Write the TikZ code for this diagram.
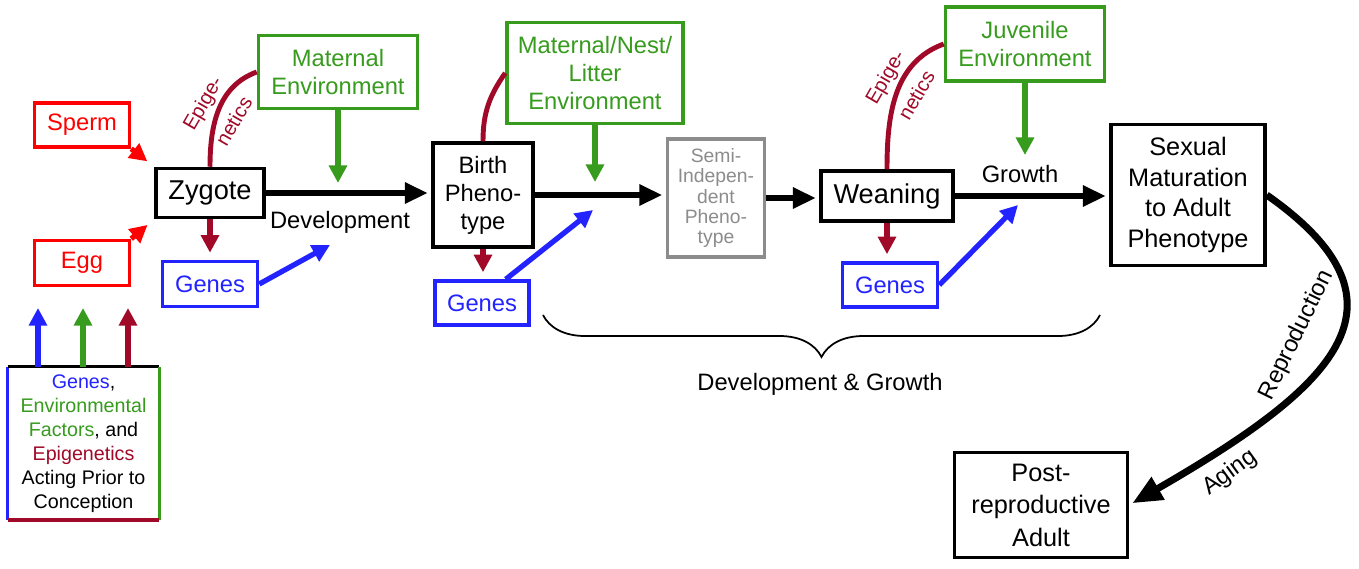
\documentclass[tikz,border=0pt]{standalone}
\usepackage{fontspec}
\setmainfont{Liberation Sans}
\usepackage{xcolor}
\usepackage{tikz}
\usetikzlibrary{shapes,arrows,arrows.meta,positioning,calc,decorations.pathreplacing}
\definecolor{gametered}{RGB}{255,0,0}
\definecolor{geneblue}{RGB}{35,35,255}
\definecolor{envgreen}{RGB}{55,155,30}
\definecolor{epired}{RGB}{160,10,40}
\definecolor{semigray}{RGB}{140,140,140}
\newcommand{\setfs}[2]{\fontsize{#1}{#2}\selectfont}

\begin{document}
\begin{tikzpicture}[
    box/.style={rectangle, draw=#1, text=#1, line width=2pt, fill=white, align=center, inner sep=1pt, font=\setfs{13.5}{16}},
    box/.default=black,
    flow/.style={-{Triangle[length=13pt,width=11.5pt]}, line width=3pt, shorten >=2pt},
    infl/.style={-{Triangle[length=10pt,width=10pt]}, line width=3pt, #1},
    epicurve/.style={line width=2.8pt, epired},
    epilabel/.style={rotate=60, text=epired, align=center, font=\setfs{11.5}{20.6}, inner sep=0pt},
    plain/.style={font=\setfs{13.5}{16}, inner sep=1pt}
  ]
    \useasboundingbox (0,0) rectangle (27.18,-11.36);

    % Gametes and prior factors
    \node[box=gametered, minimum width=1.9cm, minimum height=0.88cm] (sperm) at (1.64,-2.50) {Sperm};
    \node[box=gametered, minimum width=1.9cm, minimum height=0.9cm] (egg) at (1.64,-5.26) {Egg};
    \node[rectangle, fill=white, minimum width=3.02cm, minimum height=3.06cm, align=center, inner sep=1pt, font=\setfs{11.2}{13.6}] (prior) at (1.67,-8.87)
      {{\color{geneblue}Genes},\\{\color{envgreen}Environmental}\\{\color{envgreen}Factors}, and\\{\color{epired}Epigenetics}\\Acting Prior to\\Conception};

    % Stages
    \node[box, minimum width=2.16cm, minimum height=0.98cm, font=\setfs{15.5}{18}] (zygote) at (4.20,-3.86) {Zygote};
    \node[box, minimum width=2.0cm, minimum height=2.08cm] (birth) at (9.66,-3.90) {Birth\\Pheno-\\type};
    \node[box=semigray, minimum width=1.94cm, minimum height=2.36cm, font=\setfs{11}{11.6}] (semi) at (14.32,-3.96) {Semi-\\Indepen-\\dent\\Pheno-\\type};
    \node[box, minimum width=2.64cm, minimum height=1.0cm, font=\setfs{15.5}{18}] (weaning) at (17.74,-3.92) {Weaning};
    \node[box, minimum width=3.08cm, minimum height=2.82cm, font=\setfs{14.4}{17.5}] (sexmat) at (23.76,-3.90) {Sexual\\Maturation\\to Adult\\Phenotype};
    \node[box, minimum width=3.46cm, minimum height=2.10cm, font=\setfs{14.4}{18.5}] (post) at (20.82,-10.10) {Post-\\reproductive\\Adult};

    % Environments
    \node[box=envgreen, minimum width=3.18cm, minimum height=1.46cm] (matenv) at (6.76,-1.44) {Maternal\\Environment};
    \node[box=envgreen, minimum width=3.52cm, minimum height=2.02cm] (nestenv) at (11.90,-1.46) {Maternal/Nest/\\Litter\\Environment};
    \node[box=envgreen, minimum width=3.18cm, minimum height=1.48cm] (juvenv) at (20.50,-0.88) {Juvenile\\Environment};

    % Genes
    \node[box=geneblue, minimum width=1.9cm, minimum height=0.9cm] (genesA) at (4.20,-5.68) {Genes};
    \node[box=geneblue, minimum width=1.88cm, minimum height=0.88cm] (genesB) at (9.64,-6.06) {Genes};
    \node[box=geneblue, minimum width=1.9cm, minimum height=0.88cm] (genesC) at (17.80,-5.70) {Genes};

    % Labels
    \node[plain] (devlabel) at (6.80,-4.44) {Development};
    \node[plain] (growthlabel) at (20.40,-3.48) {Growth};
    \node[plain] (devgrowth) at (16.40,-7.68) {Development \& Growth};
    \node[plain, rotate=64] (reprolabel) at (25.94,-6.70) {Reproduction};
    \node[plain, rotate=36] (aginglabel) at (24.60,-9.46) {Aging};
    \node[epilabel] (epiA) at (4.36,-2.24) {Epige-\\netics};
    \node[epilabel] (epiC) at (18.01,-1.72) {Epige-\\netics};

    % Free ends
    \coordinate (upG) at (0.76,-6.16);
    \coordinate (upE) at (1.66,-6.16);
    \coordinate (upP) at (2.56,-6.16);
    \coordinate (devA) at (6.76,-3.66);
    \coordinate (geneA) at (6.60,-4.90);
    \coordinate (devB) at (11.90,-3.64);
    \coordinate (geneB) at (11.86,-4.20);
    \coordinate (devC) at (20.50,-3.10);
    \coordinate (geneC) at (20.36,-4.10);
    \coordinate (braceL) at (10.86,-6.30);
    \coordinate (braceR) at (22.00,-6.30);

    % Prior box borders
    \draw[line width=1.8pt, geneblue] (prior.south west) -- (prior.north west);
    \draw[line width=1.8pt, black] (prior.north west) -- (prior.north east);
    \draw[line width=1.8pt, envgreen] (prior.north east) -- (prior.south east);
    \draw[line width=2.2pt, epired] (prior.south east) -- (prior.south west);

    % Connections
    \draw[infl=geneblue] (upG |- prior.north) -- (upG);
    \draw[infl=envgreen] (upE |- prior.north) -- (upE);
    \draw[infl=epired] (upP |- prior.north) -- (upP);
    \draw[infl=gametered, shorten >=5pt] (sperm.south east) -- (zygote.north west);
    \draw[infl=gametered, shorten >=5pt] (egg.north east) -- (zygote.south west);

    \draw[flow] (zygote.east) -- (zygote.east -| birth.west);
    \draw[flow] (birth.east) -- (birth.east -| semi.west);
    \draw[flow] (semi.east) -- (semi.east -| weaning.west);
    \draw[flow] (weaning.east) -- (weaning.east -| sexmat.west);
    \draw[-{Triangle[length=17pt,width=14pt]}, line width=4pt, shorten >=2pt] (sexmat.east) .. controls +(-35:3.84) and +(30:4.66) .. (post.east);

    \draw[epicurve] (zygote.north) to[out=90, in=200] (matenv.west);
    \draw[epicurve] (birth.north) to[out=90, in=235] (nestenv.west);
    \draw[epicurve] (weaning.north) to[out=90, in=200] (juvenv.west);

    \draw[infl=epired, shorten >=4pt] (zygote.south) -- (genesA.north);
    \draw[infl=epired, shorten >=4pt] (birth.south) -- (birth.south |- genesB.north);
    \draw[infl=epired, shorten >=4pt] (weaning.south) -- (weaning.south |- genesC.north);

    \draw[infl=envgreen] (matenv.south) -- (devA);
    \draw[infl=envgreen] (nestenv.south) -- (devB);
    \draw[infl=envgreen] (juvenv.south) -- (devC);

    \draw[infl=geneblue] (genesA.east) -- (geneA);
    \draw[infl=geneblue] (genesB.45) -- (geneB);
    \draw[infl=geneblue] (genesC.east) -- (geneC);

    \draw[decorate, decoration={brace, mirror, amplitude=0.84cm}, line width=1pt] (braceL) -- (braceR);
  \end{tikzpicture}
\end{document}
